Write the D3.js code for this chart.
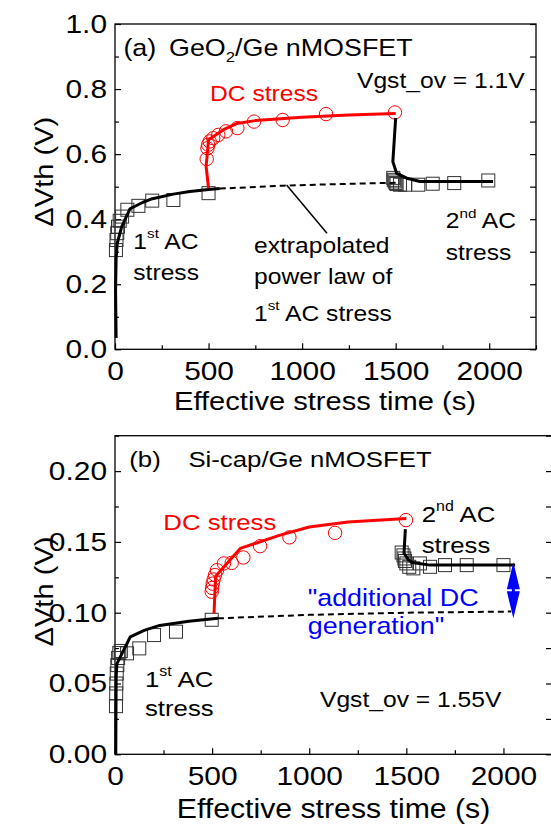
<!DOCTYPE html>
<html lang="en">
<head>
<meta charset="UTF-8">
<title>Vth shift: AC / DC / AC stress</title>
<script src="https://d3js.org/d3.v7.min.js"></script>
<style>
  body { margin: 0; background: #fff; }
  svg { display: block; font-family: 'Liberation Sans', Arial, sans-serif; }
</style>
</head>
<body>
<svg id="chart" width="551" height="825"></svg>
<script>
// ---------- panel (a) GeO2/Ge ----------
const aAc1T = [5, 8, 12, 16, 25, 38, 66, 125, 199, 312, 500];
const aAc1V = [0.305, 0.336, 0.357, 0.377, 0.395, 0.408, 0.429, 0.441, 0.457, 0.459, 0.48];
const aAc1FitT = [6, 3, 6, 12, 36, 80, 150, 200, 312, 400, 500, 560];
const aAc1FitV = [0.035, 0.18, 0.28, 0.326, 0.377, 0.432, 0.452, 0.463, 0.477, 0.485, 0.491, 0.494];
const aExtT = [560, 900, 1200, 1500];
const aExtV = [0.494, 0.503, 0.508, 0.512];
const aDcT = [490, 494, 498, 506, 525, 552, 593, 654, 743, 896, 1128, 1496];
const aDcV = [0.585, 0.618, 0.629, 0.639, 0.649, 0.659, 0.67, 0.68, 0.70, 0.705, 0.723, 0.728];
const aDcFitT = [500, 487, 500, 580, 650, 750, 1000, 1250, 1500];
const aDcFitV = [0.495, 0.562, 0.644, 0.675, 0.694, 0.703, 0.713, 0.72, 0.725];
const aAc2T = [1487, 1490, 1495, 1500, 1505, 1523, 1550, 1621, 1698, 1813, 1995];
const aAc2V = [0.527, 0.521, 0.516, 0.511, 0.508, 0.506, 0.506, 0.506, 0.509, 0.511, 0.519];
const aAc2FitT = [1500, 1485, 1505, 1560, 1630, 1800, 2020];
const aAc2FitV = [0.711, 0.577, 0.541, 0.526, 0.516, 0.516, 0.516];

// ---------- panel (b) Si-cap/Ge ----------
const bAc1T = [5, 6, 7, 9, 12, 16, 22, 30, 62, 125, 201, 314, 498];
const bAc1V = [0.034, 0.043, 0.050, 0.057, 0.063, 0.068, 0.0715, 0.073, 0.0713, 0.0748, 0.0842, 0.0866, 0.095];
const bAc1FitT = [4, 5, 6, 10, 79, 150, 230, 380, 530];
const bAc1FitV = [0.0, 0.03, 0.055, 0.064, 0.083, 0.0875, 0.091, 0.094, 0.096];
const bExtT = [530, 1000, 1500, 2040];
const bExtV = [0.096, 0.0985, 0.1, 0.1008];
const bDcT = [498, 500, 503, 508, 515, 525, 561, 601, 661, 747, 898, 1133, 1498];
const bDcV = [0.1148, 0.1175, 0.1205, 0.1235, 0.1266, 0.130, 0.1348, 0.1352, 0.139, 0.147, 0.1532, 0.1564, 0.1654];
const bDcFitT = [510, 518, 645, 850, 1000, 1200, 1500];
const bDcFitV = [0.0995, 0.1258, 0.1454, 0.1548, 0.1605, 0.164, 0.1665];
const bAc2T = [1476, 1485, 1490, 1493, 1500, 1515, 1536, 1570, 1622, 1699, 1811, 2000];
const bAc2V = [0.1425, 0.1405, 0.1383, 0.1365, 0.1348, 0.1324, 0.1313, 0.1348, 0.1324, 0.1336, 0.1336, 0.1336];
const bAc2FitT = [1495, 1488, 1510, 1530, 1622, 2060];
const bAc2FitV = [0.159, 0.142, 0.1375, 0.1355, 0.1336, 0.1336];
const bArrowT = 2051;
const bArrowV = [0.096, 0.1357];

const xMajor = [0, 500, 1000, 1500, 2000];
const xMinor = [250, 750, 1250, 1750, 2250];

const SX = 1.12;   // the source font runs a bit wide
const svg = d3.select("#chart");
const zip = (t, v) => t.map((d, i) => [d, v[i]]);

function rich(g, x, y, size, color, segs, anchor) {
  const t = g.append("text")
    .attr("transform", `translate(${x},${y}) scale(${SX},1)`)
    .attr("font-size", size).attr("fill", color)
    .attr("text-anchor", anchor || "start");
  let shift = 0;
  segs.forEach(s => {
    const off = s.sup ? -0.48 * size : s.sub ? 0.25 * size : 0;
    t.append("tspan")
      .attr("dy", off - shift)
      .attr("font-size", (s.sup || s.sub) ? size * 0.62 : size)
      .text(s.t);
    shift = off;
  });
  return t;
}

function panel(o) {
  const x = d3.scaleLinear().domain([0, 2250]).range([115, o.right]);
  const y = d3.scaleLinear().domain([0, o.ymax]).range([o.bottom, o.top]);
  const g = svg.append("g");

  g.append("rect").attr("x", 115).attr("y", o.top)
    .attr("width", o.right - 115).attr("height", o.bottom - o.top)
    .attr("fill", "none").attr("stroke", "#000").attr("stroke-width", 1.3);

  const styleTicks = (sel) => {
    sel.select(".domain").remove();
    sel.selectAll("line").attr("stroke", "#000").attr("stroke-width", 1.2);
  };

  // bottom axis
  const xa = g.append("g").attr("transform", `translate(0,${o.bottom})`)
    .call(d3.axisBottom(x).tickValues(xMajor).tickSizeInner(-6).tickSizeOuter(0)
      .tickPadding(12).tickFormat(d3.format("d")));
  styleTicks(xa);
  xa.selectAll("text").attr("font-size", 26).attr("fill", "#000")
    .attr("font-family", "'Liberation Sans', Arial, sans-serif")
    .attr("transform", `scale(1.15,1)`);
  g.append("g").attr("transform", `translate(0,${o.bottom})`)
    .call(d3.axisBottom(x).tickValues(xMinor).tickSize(-4).tickFormat(""))
    .call(styleTicks);

  // left axis
  const ya = g.append("g").attr("transform", `translate(115,0)`)
    .call(d3.axisLeft(y).tickValues(o.yMajor).tickSizeInner(-6).tickSizeOuter(0)
      .tickPadding(8).tickFormat(d3.format(o.fmt)));
  styleTicks(ya);
  ya.selectAll("text").attr("font-size", 26).attr("fill", "#000")
    .attr("font-family", "'Liberation Sans', Arial, sans-serif")
    .attr("x", -8 / 1.15).attr("transform", `scale(1.15,1)`);
  g.append("g").attr("transform", `translate(115,0)`)
    .call(d3.axisLeft(y).tickValues(o.yMinor).tickSize(-4).tickFormat(""))
    .call(styleTicks);

  // right axis, ticks only
  g.append("g").attr("transform", `translate(${o.right},0)`)
    .call(d3.axisRight(y).tickValues(o.yMajor.concat(o.yMinor)).tickSize(-6).tickFormat(""))
    .call(styleTicks);

  // titles
  g.append("text")
    .attr("transform", `translate(${o.xTitle[0]},${o.xTitle[1]}) scale(${SX},1)`)
    .attr("text-anchor", "middle").attr("font-size", o.titleSize)
    .text("Effective stress time (s)");
  g.append("text")
    .attr("transform", `translate(53,${o.yTitleY}) rotate(-90) scale(${SX},1)`)
    .attr("text-anchor", "middle").attr("font-size", 26)
    .text("\u0394Vth (V)");

  const line = d3.line().x(d => x(d[0])).y(d => y(d[1]));
  const path = (data, color, w, dash) => g.append("path").datum(data)
    .attr("d", line).attr("fill", "none").attr("stroke", color)
    .attr("stroke-width", w).attr("stroke-linejoin", "round")
    .attr("stroke-dasharray", dash || null);

  const squares = (data) => g.append("g").selectAll("rect").data(data).join("rect")
    .attr("x", d => x(d[0]) - 6.5).attr("y", d => y(d[1]) - 6.5)
    .attr("width", 13).attr("height", 13)
    .attr("fill", "none").attr("stroke", "#333").attr("stroke-width", 1);
  const circles = (data) => g.append("g").selectAll("circle").data(data).join("circle")
    .attr("cx", d => x(d[0])).attr("cy", d => y(d[1])).attr("r", 6.7)
    .attr("fill", "none").attr("stroke", "#ff0000").attr("stroke-width", 1);

  squares(o.ac1); squares(o.ac2); circles(o.dc);
  path(o.ext, "#000", 2, "6,4");
  path(o.ac1Fit, "#000", 3);
  path(o.dcFit, "#ff0000", 3);
  path(o.ac2Fit, "#000", 3);
  return { g, x, y };
}

// ----- panel (a)
const pa = panel({
  top: 24, bottom: 349.3, right: 536, ymax: 1.0,
  yMajor: [0, 0.2, 0.4, 0.6, 0.8, 1.0], yMinor: [0.1, 0.3, 0.5, 0.7, 0.9], fmt: ".1f",
  xTitle: [325, 409.5], titleSize: 26, yTitleY: 171.7,
  ac1: zip(aAc1T, aAc1V), ac1Fit: zip(aAc1FitT, aAc1FitV), ext: zip(aExtT, aExtV),
  dc: zip(aDcT, aDcV), dcFit: zip(aDcFitT, aDcFitV),
  ac2: zip(aAc2T, aAc2V), ac2Fit: zip(aAc2FitT, aAc2FitV)
});
rich(pa.g, 123.4, 56, 24, "#000", [{ t: "(a)" }]);
rich(pa.g, 169, 56, 24, "#000", [{ t: "GeO" }, { t: "2", sub: true }, { t: "/Ge nMOSFET" }]);
rich(pa.g, 357, 88.3, 22, "#000", [{ t: "Vgst_ov = 1.1V" }]);
rich(pa.g, 210, 100.5, 22, "#ff0000", [{ t: "DC stress" }]);
rich(pa.g, 133.3, 249, 22, "#000", [{ t: "1" }, { t: "st", sup: true }, { t: " AC" }]);
rich(pa.g, 133.3, 280, 22, "#000", [{ t: "stress" }]);
rich(pa.g, 254, 252.7, 22, "#000", [{ t: "extrapolated" }]);
rich(pa.g, 254, 284, 22, "#000", [{ t: "power law of" }]);
rich(pa.g, 254, 320.7, 22, "#000", [{ t: "1" }, { t: "st", sup: true }, { t: " AC stress" }]);
rich(pa.g, 445.7, 228.3, 22, "#000", [{ t: "2" }, { t: "nd", sup: true }, { t: " AC" }]);
rich(pa.g, 445.7, 260, 22, "#000", [{ t: "stress" }]);
// pointer from the label to the extrapolated curve
pa.g.append("line")
  .attr("x1", pa.x(917)).attr("y1", pa.y(0.505))
  .attr("x2", pa.x(1133)).attr("y2", pa.y(0.357))
  .attr("stroke", "#000").attr("stroke-width", 1.5);

// ----- panel (b)
const pb = panel({
  top: 435.7, bottom: 754.3, right: 552, ymax: 0.225,
  yMajor: [0, 0.05, 0.1, 0.15, 0.2], yMinor: [0.025, 0.075, 0.125, 0.175, 0.225], fmt: ".2f",
  xTitle: [333.5, 818], titleSize: 27, yTitleY: 591.5,
  ac1: zip(bAc1T, bAc1V), ac1Fit: zip(bAc1FitT, bAc1FitV), ext: zip(bExtT, bExtV),
  dc: zip(bDcT, bDcV), dcFit: zip(bDcFitT, bDcFitV),
  ac2: zip(bAc2T, bAc2V), ac2Fit: zip(bAc2FitT, bAc2FitV)
});
rich(pb.g, 129.3, 467, 23, "#000", [{ t: "(b)" }]);
rich(pb.g, 188.4, 467, 23, "#000", [{ t: "Si-cap/Ge nMOSFET" }]);
rich(pb.g, 163.3, 530, 23, "#ff0000", [{ t: "DC stress" }]);
rich(pb.g, 421.7, 521.7, 23, "#000", [{ t: "2" }, { t: "nd", sup: true }, { t: " AC" }]);
rich(pb.g, 421.7, 552.7, 23, "#000", [{ t: "stress" }]);
rich(pb.g, 307.7, 606, 24, "#0000ff", [{ t: "\"additional DC" }]);
rich(pb.g, 307.7, 634, 24, "#0000ff", [{ t: "generation\"" }]);
rich(pb.g, 145, 687, 23, "#000", [{ t: "1" }, { t: "st", sup: true }, { t: " AC" }]);
rich(pb.g, 145, 716, 23, "#000", [{ t: "stress" }]);
rich(pb.g, 320, 707.3, 22, "#000", [{ t: "Vgst_ov = 1.55V" }]);

// double-headed blue arrow for the extra DC component
const ax = pb.x(bArrowT), yLo = pb.y(bArrowV[0]), yHi = pb.y(bArrowV[1]);
pb.g.append("line").attr("x1", ax).attr("x2", ax)
  .attr("y1", yHi + 20).attr("y2", yLo - 20)
  .attr("stroke", "#0000ff").attr("stroke-width", 3);
pb.g.append("path")
  .attr("d", `M${ax},${yHi} L${ax - 6.5},${yHi + 27} L${ax + 6.5},${yHi + 27} Z`)
  .attr("fill", "#0000ff");
pb.g.append("path")
  .attr("d", `M${ax},${yLo} L${ax - 6.5},${yLo - 27} L${ax + 6.5},${yLo - 27} Z`)
  .attr("fill", "#0000ff");
</script>
</body>
</html>
